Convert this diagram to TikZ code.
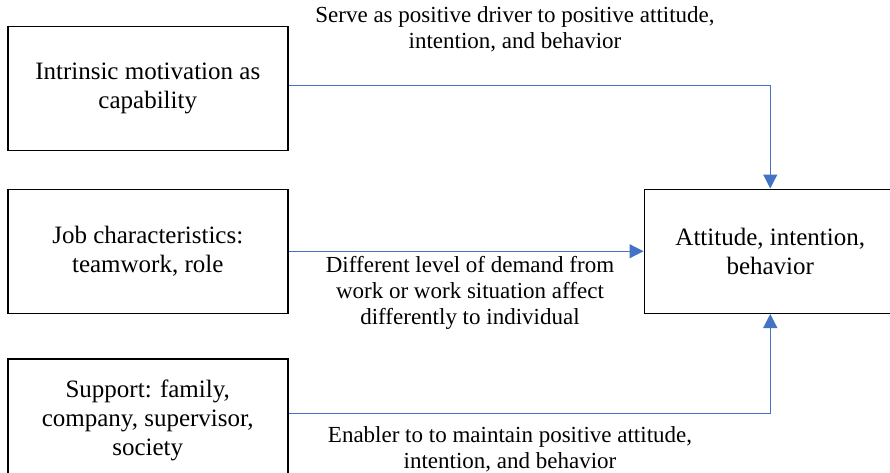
\documentclass[tikz,border=0pt]{standalone}
\usepackage{fontspec}
\setmainfont{Liberation Serif}
\usetikzlibrary{arrows.meta, positioning}
\definecolor{linkBlue}{HTML}{4472C4}
\tikzset{
  factorbox/.style={draw=black, line width=1.5pt, align=center, font=\fontsize{25}{29}\selectfont, minimum width=280pt, minimum height=124pt, inner sep=0pt},
  flowarr/.style={-{Triangle[length=14pt, width=14pt]}, linkBlue, line width=1.2pt},
  notelabel/.style={align=center, font=\fontsize{23}{26}\selectfont},
}

\begin{document}
\begin{tikzpicture}[x=1pt, y=-1pt]
    \useasboundingbox (0,0) rectangle (890,473);
    \node[factorbox, anchor=north west] (intr) at (7,26) {Intrinsic motivation as\\ capability};
    \node[factorbox, below=37pt of intr] (job) {Job characteristics:\\ teamwork, role};
    \node[factorbox, below=44pt of job] (supp) {Support: family,\\ company, supervisor,\\ society};
    \node[factorbox, minimum width=252pt, right=355pt of job] (att) {Attitude, intention,\\ behavior};
    \draw[flowarr] ([yshift=3pt]intr.east) -| (att.north);
    \draw[flowarr] (job) -- (att);
    \draw[flowarr] ([yshift=7pt]supp.east) -| (att.south);
    \node[notelabel] (drvlbl) at (515,29) {Serve as positive driver to positive attitude,\\ intention, and behavior};
    \node[notelabel] (demlbl) at (470,293) {Different level of demand from\\ work or work situation affect\\ differently to individual};
    \node[notelabel] (enblbl) at (510,449) {Enabler to to maintain positive attitude,\\ intention, and behavior};
  \end{tikzpicture}
\end{document}
